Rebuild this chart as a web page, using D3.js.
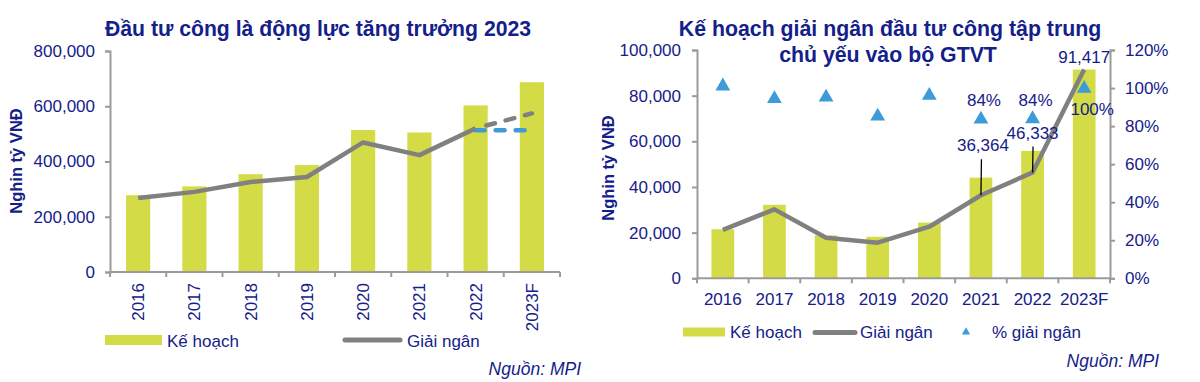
<!DOCTYPE html>
<html><head><meta charset="utf-8">
<script src="https://cdn.jsdelivr.net/npm/d3@7"></script>
<style>
html,body{margin:0;padding:0;background:#fff;}
text{font-family:"Liberation Sans",Arial,sans-serif;fill:#14208a;}
</style></head>
<body>
<svg id="c" width="1200" height="382"></svg>
<script>
// ---------- DATA ----------
const categories = ["2016","2017","2018","2019","2020","2021","2022","2023F"];
// Left chart (Nghìn tỷ VNĐ)
const leftPlan = [278000, 310000, 354000, 387000, 514000, 505000, 603000, 687000];
const leftDisbCats = ["2016","2017","2018","2019","2020","2021","2022"];
const leftDisb = [268000, 290000, 326000, 344000, 469000, 423000, 520000];
const leftForecastCats = ["2022","2023F"];
const leftForecast = [520000, 574000];
const leftAltForecast = [513000, 513000];
const leftTicks = [0, 200000, 400000, 600000, 800000];
// Right chart
const rightPlan = [21500, 32200, 18800, 18200, 24400, 44100, 55800, 91417];
const rightDisb = [21200, 30200, 17800, 15600, 22600, 36364, 46333, 91417];
const rightPct = [1.01, 0.944, 0.952, 0.852, 0.961, 0.836, 0.838, 0.998];
const rightTicks = [0, 20000, 40000, 60000, 80000, 100000];
const pctTicks = [0, 0.2, 0.4, 0.6, 0.8, 1.0, 1.2];
const disbLabelIdx = [5, 6, 7];
const pctLabelIdx = [5, 6, 7];

const titleLeft = "Đầu tư công là động lực tăng trưởng 2023";
const titleRight = ["Kế hoạch giải ngân đầu tư công tập trung", "chủ yếu vào bộ GTVT"];
const yTitle = "Nghin tỷ VNĐ";
const legendNames = ["Kế hoạch", "Giải ngân", "% giải ngân"];
const sourceText = "Nguồn: MPI";

// ---------- STYLE ----------
const BAR = "#d3dc47", LINE = "#808080", BLUE = "#3e9bd7", AX = "#9b9b9b", NAVY = "#14208a";
const svg = d3.select("#c");
svg.append("rect").attr("width",1200).attr("height",382).attr("fill","#fff");

const fmt = d3.format(",");
const pfmt = d3.format(".0%");

function styleAxis(g){
  g.select(".domain").attr("stroke", AX).attr("stroke-width", 2);
  g.selectAll(".tick line").attr("stroke", AX).attr("stroke-width", 2);
  g.selectAll(".tick text").attr("fill", NAVY).style("font-size","17px").attr("font-family",null);
}

// ================= LEFT CHART =================
(function(){
  const L = 110, R = 560, T = 51, B = 272;
  const x = d3.scaleBand().domain(categories).range([L, R]).paddingInner(0.57).paddingOuter(0.285);
  const y = d3.scaleLinear().domain([0, 800000]).range([B, T]);
  const g = svg.append("g");

  g.selectAll("rect.bar").data(leftPlan).join("rect")
    .attr("x", (d,i)=>x(categories[i])).attr("width", x.bandwidth())
    .attr("y", d=>y(d)).attr("height", d=>B - y(d)).attr("fill", BAR);

  const ya = g.append("g").attr("transform",`translate(${L},0)`)
    .call(d3.axisLeft(y).tickValues(leftTicks).tickFormat(fmt).tickSize(5).tickPadding(10).tickSizeOuter(5));
  styleAxis(ya);

  const xb = d3.scaleLinear().domain([0, categories.length]).range([L, R]);
  g.append("line").attr("x1", L).attr("x2", R).attr("y1", B).attr("y2", B).attr("stroke", AX).attr("stroke-width", 2);
  g.selectAll("line.xt").data(d3.range(categories.length+1)).join("line")
    .attr("x1", d=>xb(d)).attr("x2", d=>xb(d)).attr("y1", B).attr("y2", B+5).attr("stroke", AX).attr("stroke-width", 2);
  g.selectAll("text.xl").data(categories).join("text")
    .attr("transform", d=>`translate(${x(d)+x.bandwidth()/2+6},${B+11}) rotate(-90)`)
    .attr("text-anchor","end").style("font-size","17px").text(d=>d);

  const cx = c => x(c) + x.bandwidth()/2;
  const line = d3.line().x(d=>cx(d[0])).y(d=>y(d[1]));
  g.append("path").datum(leftAltForecast.map((v,i)=>[leftForecastCats[i], v]))
    .attr("d", line).attr("fill","none").attr("stroke", BLUE).attr("stroke-width", 4.5)
    .attr("stroke-linecap","round").attr("stroke-dasharray","9,11");
  g.append("path").datum(leftForecast.map((v,i)=>[leftForecastCats[i], v]))
    .attr("d", line).attr("fill","none").attr("stroke", LINE).attr("stroke-width", 4.5)
    .attr("stroke-linecap","round").attr("stroke-dasharray","9,11").attr("stroke-dashoffset", 9);
  g.append("path").datum(leftDisb.map((v,i)=>[leftDisbCats[i], v]))
    .attr("d", line).attr("fill","none").attr("stroke", LINE).attr("stroke-width", 4.5)
    .attr("stroke-linejoin","round");

  svg.append("text").attr("x", 318).attr("y", 36).attr("text-anchor","middle")
    .style("font-size","21.2px").style("font-weight","bold").text(titleLeft);
  svg.append("text").attr("transform","translate(22,161) rotate(-90)").attr("text-anchor","middle")
    .style("font-size","16.5px").style("font-weight","bold").text(yTitle);

  svg.append("rect").attr("x",105).attr("y",335).attr("width",57).attr("height",10).attr("fill",BAR);
  svg.append("text").attr("x",167).attr("y",346.5).style("font-size","17px").text(legendNames[0]);
  svg.append("line").attr("x1",345).attr("x2",400).attr("y1",340).attr("y2",340)
    .attr("stroke",LINE).attr("stroke-width",5).attr("stroke-linecap","round");
  svg.append("text").attr("x",407).attr("y",346.5).style("font-size","17px").text(legendNames[1]);
  svg.append("text").attr("x",581).attr("y",375).attr("text-anchor","end")
    .style("font-size","17.5px").style("font-style","italic").text(sourceText);
})();

// ================= RIGHT CHART =================
(function(){
  const L = 697, R = 1110, T = 50, B = 278.3;
  const x = d3.scaleBand().domain(categories).range([L, R]).paddingInner(0.56).paddingOuter(0.28);
  const y = d3.scaleLinear().domain([0, 100000]).range([B, T]);
  const y2 = d3.scaleLinear().domain([0, 1.2]).range([B, T]);
  const g = svg.append("g");
  const cx = c => x(c) + x.bandwidth()/2;

  g.selectAll("rect.bar").data(rightPlan).join("rect")
    .attr("x", (d,i)=>x(categories[i])).attr("width", x.bandwidth())
    .attr("y", d=>y(d)).attr("height", d=>B - y(d)).attr("fill", BAR);

  const ya = g.append("g").attr("transform",`translate(${L},0)`)
    .call(d3.axisLeft(y).tickValues(rightTicks).tickFormat(fmt).tickSize(5).tickPadding(11).tickSizeOuter(5));
  styleAxis(ya);
  const ya2 = g.append("g").attr("transform",`translate(${R},0)`)
    .call(d3.axisRight(y2).tickValues(pctTicks).tickFormat(pfmt).tickSize(5).tickPadding(10).tickSizeOuter(5));
  styleAxis(ya2);

  const xb = d3.scaleLinear().domain([0, categories.length]).range([L, R]);
  g.append("line").attr("x1", L).attr("x2", R).attr("y1", B).attr("y2", B).attr("stroke", AX).attr("stroke-width", 2);
  g.selectAll("line.xt").data(d3.range(categories.length+1)).join("line")
    .attr("x1", d=>xb(d)).attr("x2", d=>xb(d)).attr("y1", B).attr("y2", B+5).attr("stroke", AX).attr("stroke-width", 2);
  g.selectAll("text.xl").data(categories).join("text")
    .attr("x", d=>cx(d)).attr("y", 305).attr("text-anchor","middle").style("font-size","17px").text(d=>d);

  const line = d3.line().x((d,i)=>cx(categories[i])).y(d=>y(d));
  g.append("path").datum(rightDisb).attr("d", line).attr("fill","none")
    .attr("stroke", LINE).attr("stroke-width", 4.5).attr("stroke-linejoin","round");

  const tri = d3.symbol().type(d3.symbolTriangle).size(95);
  g.selectAll("path.tri").data(rightPct).join("path")
    .attr("d", tri).attr("transform", (d,i)=>`translate(${cx(categories[i])},${y2(d)})`).attr("fill", BLUE);

  const dOff = {5: 44, 6: 34, 7: 7};
  disbLabelIdx.forEach(i=>{
    const px = cx(categories[i]), py = y(rightDisb[i]);
    if (i !== 7) {
      g.append("line").attr("x1", px+0.5).attr("x2", px).attr("y1", py - dOff[i] + 8).attr("y2", py)
        .attr("stroke","#000").attr("stroke-width",1.3);
    }
    g.append("text").attr("x", px + (i===5?2:0)).attr("y", py - dOff[i]).attr("text-anchor","middle")
      .style("font-size","17px").text(fmt(rightDisb[i]));
  });
  pctLabelIdx.forEach(i=>{
    const px = cx(categories[i]), py = y2(rightPct[i]);
    if (i === 7) {
      g.append("text").attr("x", px + 8).attr("y", py + 27).attr("text-anchor","middle")
        .style("font-size","17px").text(pfmt(rightPct[i]));
    } else {
      g.append("text").attr("x", px + 3).attr("y", py - 13).attr("text-anchor","middle")
        .style("font-size","17px").text(pfmt(rightPct[i]));
    }
  });

  svg.append("text").attr("x", 890).attr("y", 36).attr("text-anchor","middle")
    .style("font-size","21.3px").style("font-weight","bold").text(titleRight[0]);
  svg.append("text").attr("x", 888).attr("y", 62).attr("text-anchor","middle")
    .style("font-size","21.3px").style("font-weight","bold").text(titleRight[1]);
  svg.append("text").attr("transform","translate(614,168) rotate(-90)").attr("text-anchor","middle")
    .style("font-size","16.5px").style("font-weight","bold").text(yTitle);

  svg.append("rect").attr("x",683).attr("y",327.5).attr("width",42).attr("height",9).attr("fill",BAR);
  svg.append("text").attr("x",730).attr("y",338).style("font-size","17px").text(legendNames[0]);
  svg.append("line").attr("x1",815).attr("x2",855).attr("y1",332.5).attr("y2",332.5)
    .attr("stroke",LINE).attr("stroke-width",5).attr("stroke-linecap","round");
  svg.append("text").attr("x",860).attr("y",338).style("font-size","17px").text(legendNames[1]);
  svg.append("path").attr("d", d3.symbol().type(d3.symbolTriangle).size(30)).attr("transform","translate(966,332)").attr("fill",BLUE);
  svg.append("text").attr("x",992).attr("y",338).style("font-size","17px").text(legendNames[2]);
  svg.append("text").attr("x",1159).attr("y",367).attr("text-anchor","end")
    .style("font-size","17.5px").style("font-style","italic").text(sourceText);
})();
</script>
</body></html>
